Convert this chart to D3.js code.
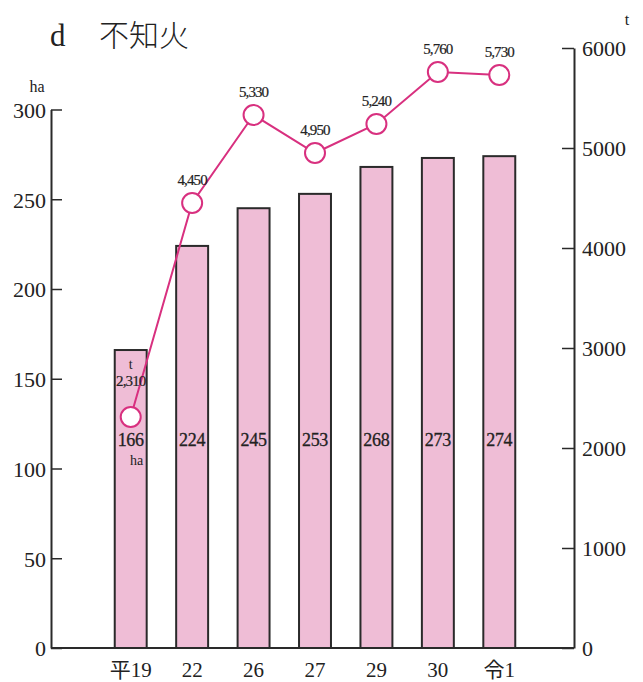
<!DOCTYPE html>
<html><head><meta charset="utf-8">
<script src="https://cdn.jsdelivr.net/npm/d3@7/dist/d3.min.js"></script>
<style>
html,body{margin:0;padding:0;background:#fff;}
svg{display:block;}
.num{font-family:"Liberation Serif","DejaVu Serif",serif;fill:#222;}
</style></head>
<body>
<svg id="c" width="643" height="682"></svg>
<script>
const categories = ["平19","22","26","27","29","30","令1"];
const areaHa = [166,224,245,253,268,273,274];
const yieldT = [2310,4450,5330,4950,5240,5760,5730];
const leftTicks = [0,50,100,150,200,250,300];
const rightTicks = [0,1000,2000,3000,4000,5000,6000];

const svg = d3.select("#c");
const pink = "#d8307f";
const fmt = d3.format(",");

const x = d3.scaleBand().domain(categories).range([100,530]).paddingInner(0.48).paddingOuter(0.24);
const yL = d3.scaleLinear().domain([0,300]).range([648,109.5]);
const yR = d3.scaleLinear().domain([0,6000]).range([648,48]);

// title
svg.append("text").attr("x",50).attr("y",46).attr("class","num")
  .style("font-size","31px").text("d");
svg.append("text").attr("x",99).attr("y",46)
  .style("font-family","'Noto Sans CJK JP',sans-serif").style("font-size","30px").style("font-weight","300").attr("fill","#222")
  .text("不知火");

// bars
svg.append("g").selectAll("rect").data(categories).join("rect")
  .attr("x",d=>x(d)).attr("width",x.bandwidth())
  .attr("y",(d,i)=>yL(areaHa[i])).attr("height",(d,i)=>yL(0)-yL(areaHa[i]))
  .attr("fill","#efbdd6").attr("stroke","#2a2a2a").attr("stroke-width",2);

// axes
const gL = svg.append("g").attr("transform","translate(51,0)")
  .call(d3.axisLeft(yL).tickValues(leftTicks).tickFormat(d3.format("d")).tickSizeInner(-11).tickSizeOuter(0).tickPadding(5));
const gR = svg.append("g").attr("transform","translate(574,0)")
  .call(d3.axisRight(yR).tickValues(rightTicks).tickFormat(d3.format("d")).tickSizeInner(-12).tickSizeOuter(0).tickPadding(8));
[gL,gR].forEach(g=>{
  g.select(".domain").attr("stroke","#2a2a2a").attr("stroke-width",2);
  g.selectAll(".tick line").attr("stroke","#2a2a2a").attr("stroke-width",1.5);
  g.selectAll(".tick text").attr("class","num").attr("fill","#222")
    .style("font-size","22px").attr("dy","0.36em");
});
// baseline
svg.append("line").attr("x1",51).attr("x2",574).attr("y1",yL(0)).attr("y2",yL(0))
  .attr("stroke","#2a2a2a").attr("stroke-width",2);

// unit labels
svg.append("text").attr("class","num").attr("x",37).attr("y",92).attr("text-anchor","middle").style("font-size","16px").attr("fill","#444").text("ha");
svg.append("text").attr("class","num").attr("x",627).attr("y",25).attr("text-anchor","middle").style("font-size","16px").attr("fill","#444").text("t");

// x labels
svg.append("g").selectAll("text").data(categories).join("text")
  .attr("x",d=>x(d)+x.bandwidth()/2).attr("y",677).attr("text-anchor","middle")
  .style("font-family","'Liberation Serif','Noto Sans CJK JP',serif").style("font-size","21px").attr("fill","#222")
  .text(d=>d);

// bar value labels
svg.append("g").selectAll("text").data(categories).join("text")
  .attr("class","num").attr("x",d=>x(d)+x.bandwidth()/2).attr("y",446).attr("text-anchor","middle")
  .style("font-size","18px").style("letter-spacing","-0.3px").attr("stroke","#222").attr("stroke-width",0.3)
  .text((d,i)=>areaHa[i]);
svg.append("text").attr("class","num").attr("x",x(categories[0])+x.bandwidth()/2+6).attr("y",465)
  .attr("text-anchor","middle").style("font-size","14px").text("ha");

// line
const cx = (d,i)=>x(categories[i])+x.bandwidth()/2;
svg.append("path").datum(yieldT)
  .attr("d",d3.line().x(cx).y(d=>yR(d)))
  .attr("fill","none").attr("stroke",pink).attr("stroke-width",2);
svg.append("g").selectAll("circle").data(yieldT).join("circle")
  .attr("cx",cx).attr("cy",d=>yR(d)).attr("r",10)
  .attr("fill","#fff").attr("stroke",pink).attr("stroke-width",2);

// point labels
svg.append("g").selectAll("text").data(yieldT).join("text")
  .attr("class","num").attr("x",cx).attr("y",(d,i)=> i===0 ? yR(d)-31 : yR(d)-18)
  .attr("text-anchor","middle").style("font-size","15px").style("letter-spacing","-0.9px")
  .attr("stroke","#222").attr("stroke-width",0.2)
  .text(d=>fmt(d));
svg.append("text").attr("class","num").attr("x",cx(yieldT[0],0)).attr("y",yR(yieldT[0])-48)
  .attr("text-anchor","middle").style("font-size","14px").text("t");
</script>
</body></html>
